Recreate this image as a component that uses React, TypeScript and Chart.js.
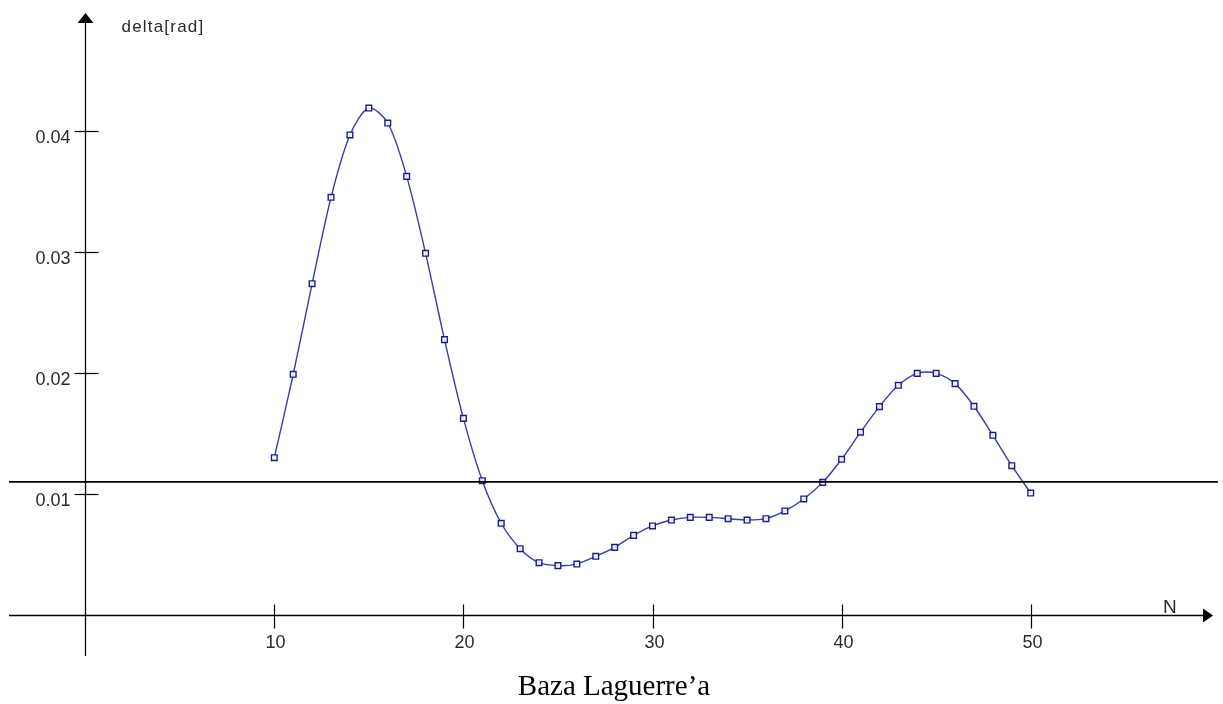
import React, { useEffect, useRef } from "react";
import { Chart, registerables } from "chart.js";

Chart.register(...registerables);

const nValues = [
  10, 11, 12, 13, 14, 15, 16, 17, 18, 19, 20, 21, 22, 23, 24, 25, 26, 27, 28, 29, 30,
  31, 32, 33, 34, 35, 36, 37, 38, 39, 40, 41, 42, 43, 44, 45, 46, 47, 48, 49, 50,
];
const deltaValues = [
  0.0130, 0.01989, 0.02738, 0.03452, 0.03967, 0.0419, 0.04066, 0.03625, 0.02989, 0.02276,
  0.01625, 0.0111, 0.00758, 0.00548, 0.00432, 0.00408, 0.00421, 0.00485, 0.00559, 0.00658,
  0.00736, 0.00785, 0.00807, 0.00807, 0.00796, 0.00785, 0.00796, 0.0086, 0.00959, 0.01096,
  0.01287, 0.01511, 0.01722, 0.01898, 0.01997, 0.01997, 0.01912, 0.01725, 0.01485, 0.01234,
  0.01008,
];
const thresholdX = [-4.03, 59.9];
const thresholdY = [0.011, 0.011];
const xTicks = [10, 20, 30, 40, 50];
const yTicks = [0.01, 0.02, 0.03, 0.04];
const yTickLabels = ["0.01", "0.02", "0.03", "0.04"];
const xTitle = "N";
const yTitle = "delta[rad]";
const caption = "Baza Laguerre\u2019a";

const axesPlugin = {
  id: "customAxes",
  beforeDatasetsDraw(chart: any) {
    const ctx = chart.ctx;
    const xs = chart.scales.x;
    const ys = chart.scales.y;
    const ca = chart.chartArea;
    const x0 = Math.round(xs.getPixelForValue(0)) + 0.5;
    const y0 = Math.round(ys.getPixelForValue(0)) + 0.5;
    ctx.save();
    ctx.strokeStyle = "#000";
    ctx.fillStyle = "#000";
    ctx.lineWidth = 1.3;
    // x axis
    ctx.beginPath();
    ctx.moveTo(ca.left, y0);
    ctx.lineTo(ca.right - 8, y0);
    ctx.stroke();
    ctx.beginPath();
    ctx.moveTo(ca.right, y0);
    ctx.lineTo(ca.right - 10, y0 - 7);
    ctx.lineTo(ca.right - 10, y0 + 7);
    ctx.closePath();
    ctx.fill();
    // y axis
    ctx.beginPath();
    ctx.moveTo(x0, ca.bottom);
    ctx.lineTo(x0, ca.top + 8);
    ctx.stroke();
    ctx.beginPath();
    ctx.moveTo(x0, ca.top);
    ctx.lineTo(x0 - 8, ca.top + 10);
    ctx.lineTo(x0 + 8, ca.top + 10);
    ctx.closePath();
    ctx.fill();
    // ticks
    ctx.lineWidth = 1.2;
    ctx.font = '18px "Liberation Sans", Arial, sans-serif';
    ctx.textAlign = "center";
    ctx.textBaseline = "alphabetic";
    xTicks.forEach((t) => {
      const px = Math.round(xs.getPixelForValue(t)) + 0.5;
      ctx.beginPath();
      ctx.moveTo(px, y0 - 11);
      ctx.lineTo(px, y0 + 13);
      ctx.stroke();
    });
    yTicks.forEach((t) => {
      const py = Math.round(ys.getPixelForValue(t)) + 0.5;
      ctx.beginPath();
      ctx.moveTo(x0 - 11, py);
      ctx.lineTo(x0 + 13, py);
      ctx.stroke();
    });
    ctx.fillStyle = "#2a2a2a";
    xTicks.forEach((t) => {
      const px = Math.round(xs.getPixelForValue(t)) + 0.5;
      ctx.fillText(String(t), px + 1, y0 + 32);
    });
    ctx.textAlign = "right";
    yTicks.forEach((t, i) => {
      const py = Math.round(ys.getPixelForValue(t)) + 0.5;
      ctx.fillText(yTickLabels[i], x0 - 15, py + 11);
    });
    // titles
    ctx.textAlign = "left";
    ctx.font = '19px "Liberation Sans", Arial, sans-serif';
    ctx.fillText(xTitle, ca.right - 50, y0 - 3);
    ctx.font = '17px "Liberation Sans", Arial, sans-serif';
    (ctx as any).letterSpacing = "1.2px";
    ctx.fillText(yTitle, x0 + 36, ca.top + 19);
    ctx.restore();
  },
};

export default function App() {
  const canvasRef = useRef<HTMLCanvasElement | null>(null);

  useEffect(() => {
    if (!canvasRef.current) return;
    const chart = new Chart(canvasRef.current, {
      type: "line",
      data: {
        datasets: [
          {
            data: thresholdX.map((x, i) => ({ x, y: thresholdY[i] })),
            borderColor: "#000",
            borderWidth: 1.6,
            pointRadius: 0,
            tension: 0,
            clip: false as any,
          },
          {
            data: nValues.map((x, i) => ({ x, y: deltaValues[i] })),
            borderColor: "#3a3aa8",
            borderWidth: 1.4,
            tension: 0.3,
            pointStyle: "rect",
            pointRadius: 4,
            pointBorderWidth: 1.4,
            pointBorderColor: "#1c1c90",
            pointBackgroundColor: "rgba(255,255,255,0.85)",
            clip: false as any,
          },
        ],
      },
      options: {
        animation: false,
        responsive: false,
        devicePixelRatio: 1,
        layout: { padding: { left: 9, right: 10, top: 13, bottom: 48 } },
        plugins: {
          legend: { display: false },
          tooltip: { enabled: false },
          title: { display: false },
        },
        scales: {
          x: { type: "linear", display: false, min: -4.0296, max: 59.64 },
          y: { type: "linear", display: false, min: -0.0033884, max: 0.049752 },
        },
      },
      plugins: [axesPlugin],
    });
    return () => chart.destroy();
  }, []);

  return (
    <div style={{ position: "fixed", left: 0, top: 0, width: 1223, height: 704, background: "#fff" }}>
      <canvas ref={canvasRef} width={1223} height={704} style={{ position: "absolute", left: 0, top: 0 }} />
      <div
        style={{
          position: "absolute",
          left: 0,
          width: 1228,
          top: 671,
          textAlign: "center",
          fontFamily: '"Liberation Serif", "Times New Roman", serif',
          fontSize: 29,
          lineHeight: "29px",
          color: "#000",
        }}
      >
        {caption}
      </div>
    </div>
  );
}
